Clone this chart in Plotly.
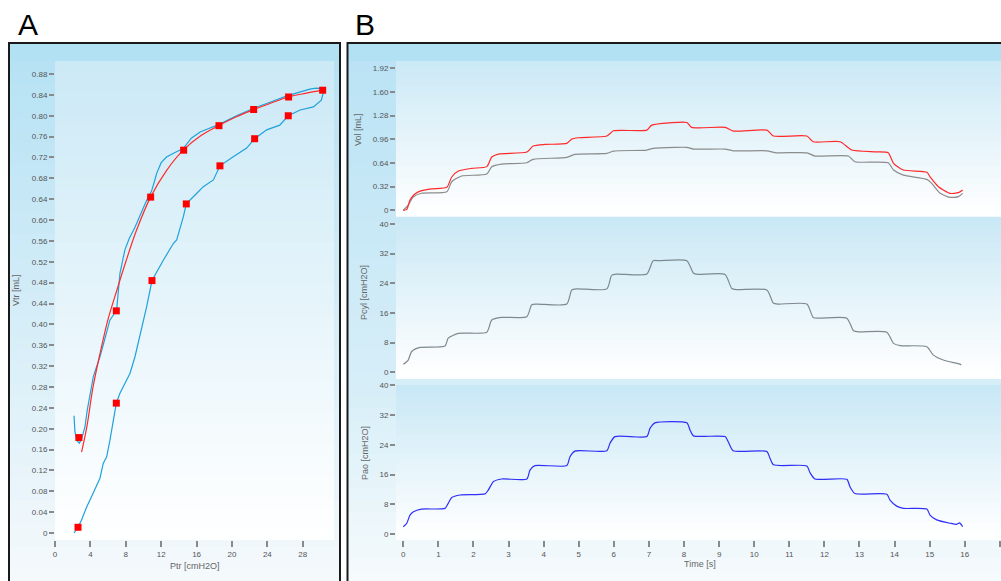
import plotly.graph_objects as go

W, H = 1001, 581

# ---------------- Panel A data (Ptr vs Vtr) ----------------
loop_ptr = [2.15, 2.6, 3.0, 3.58, 4.14, 4.7, 5.08, 5.46, 5.84, 6.21, 6.59, 6.78, 6.93, 7.34, 8.0, 8.47,
            9.04, 9.5, 9.98, 10.36, 10.96, 11.6, 12.24, 13.37, 13.75, 14.5, 14.84, 16.0, 16.76, 17.9,
            18.64, 20.1, 21.66, 22.56, 23.92, 25.4, 26.36, 27.7, 29.2, 30.1, 30.3, 30.25,
            29.5, 28.8, 27.7, 26.2, 24.3, 22.4, 20.5, 18.5, 17.3, 16.4, 15.4, 14.9, 14.5, 13.5, 12.6,
            12.0, 11.5, 11.2, 10.9, 10.36, 9.6, 9.0, 8.4, 7.9, 7.34, 7.1, 6.97, 6.6, 6.2, 5.6, 5.08,
            4.33, 3.9, 3.65, 3.39, 3.0, 2.75, 2.45, 2.25, 2.15]
loop_vtr = [0.0, 0.011, 0.025, 0.05, 0.07, 0.09, 0.105, 0.134, 0.146, 0.178, 0.217, 0.23, 0.249, 0.268,
            0.29, 0.306, 0.338, 0.37, 0.402, 0.434, 0.484, 0.505, 0.523, 0.555, 0.562, 0.606, 0.631,
            0.651, 0.664, 0.677, 0.704, 0.721, 0.738, 0.756, 0.773, 0.782, 0.800, 0.811, 0.817, 0.830,
            0.843, 0.852,
            0.853, 0.851, 0.846, 0.838, 0.826, 0.814, 0.80, 0.783, 0.775, 0.769, 0.757, 0.747, 0.737,
            0.729, 0.721, 0.71, 0.69, 0.672, 0.655, 0.638, 0.607, 0.585, 0.565, 0.543, 0.498, 0.46,
            0.428, 0.418, 0.408, 0.37, 0.338, 0.30, 0.26, 0.236, 0.204, 0.18, 0.172, 0.178, 0.195, 0.225]

fit_ptr = [3.0, 3.6, 4.3, 5.1, 6.0, 7.0, 8.0, 9.2, 10.8, 12.6, 14.5, 16.5, 18.5, 20.5, 22.5, 24.5,
           26.4, 28.3, 30.25]
fit_vtr = [0.155, 0.204, 0.28, 0.345, 0.41, 0.466, 0.52, 0.58, 0.644, 0.695, 0.734, 0.762, 0.781,
           0.798, 0.812, 0.825, 0.836, 0.843, 0.849]

mk_ptr = [2.6, 6.93, 10.96, 14.84, 18.64, 22.56, 26.36, 30.25, 26.4, 22.45, 18.53, 14.54, 10.81, 6.93, 2.7]
mk_vtr = [0.011, 0.249, 0.484, 0.631, 0.704, 0.756, 0.800, 0.849, 0.836, 0.812, 0.781, 0.734, 0.644,
          0.426, 0.183]

a_xticks = [0, 4, 8, 12, 16, 20, 24, 28]
a_yticks = [round(0.04 * i, 2) for i in range(23)]
a_ylabels = ["0"] + ["%.2f" % v for v in a_yticks[1:]]

# ---------------- Panel B data (time series) ----------------
t_v1 = [0, 0.1, 0.19, 0.33, 0.52, 0.81, 1.24, 1.38, 1.57, 1.95, 2.38, 2.52, 2.71, 3.52, 3.7, 4.04, 4.66,
        4.8, 4.99, 5.8, 5.99, 6.94, 7.08, 7.6, 8.08, 8.22, 9.17, 9.41, 10.36, 10.55, 11.5, 11.68, 12.45,
        12.78, 13.49, 13.82, 13.97, 14.25, 14.92, 15.01, 15.25, 15.58, 15.82, 15.94]
vol1 = [0, 0.013, 0.139, 0.22, 0.265, 0.29, 0.31, 0.45, 0.53, 0.567, 0.59, 0.72, 0.76, 0.787, 0.868, 0.89,
        0.904, 0.962, 0.98, 1.003, 1.074, 1.083, 1.151, 1.182, 1.187, 1.12, 1.12, 1.07, 1.083, 1.003,
        1.003, 0.926, 0.926, 0.814, 0.79, 0.777, 0.634, 0.544, 0.513, 0.453, 0.318, 0.229, 0.238, 0.274]

t_v2 = [0, 0.14, 0.28, 0.52, 1.24, 1.38, 1.66, 2.38, 2.52, 2.8, 3.52, 3.7, 4.66, 4.89, 5.8, 5.99, 6.94,
        7.12, 7.74, 8.08, 8.27, 9.17, 9.4, 10.36, 10.64, 11.5, 11.73, 12.68, 12.87, 13.82, 13.97, 14.25,
        14.92, 15.06, 15.3, 15.58, 15.82, 15.94]
vol2 = [0, 0.07, 0.18, 0.23, 0.25, 0.386, 0.463, 0.49, 0.589, 0.625, 0.642, 0.688, 0.715, 0.756, 0.769,
        0.80, 0.814, 0.837, 0.85, 0.85, 0.827, 0.827, 0.804, 0.804, 0.777, 0.777, 0.733, 0.733, 0.656,
        0.642, 0.544, 0.476, 0.418, 0.364, 0.229, 0.175, 0.184, 0.229]

t_pcyl = [0, 0.14, 0.24, 0.48, 1.19, 1.28, 1.57, 2.38, 2.52, 2.8, 3.52, 3.66, 3.8, 4.66, 4.8, 4.95, 5.8,
          5.94, 6.1, 6.94, 7.12, 7.3, 8.08, 8.27, 8.4, 9.17, 9.36, 9.5, 10.36, 10.55, 10.7, 11.5, 11.68,
          11.85, 12.64, 12.83, 13.0, 13.78, 13.97, 14.16, 14.92, 15.1, 15.39, 15.86, 15.9]
pcyl = [2.15, 3.3, 5.6, 6.7, 7.1, 9.2, 10.5, 10.8, 14.1, 14.8, 15.0, 18.2, 18.4, 18.4, 22.2, 22.5, 22.5,
        26.2, 26.5, 26.5, 30.1, 30.1, 30.1, 26.7, 26.4, 26.4, 22.6, 22.3, 22.2, 18.6, 18.4, 18.4, 14.8,
        14.6, 14.6, 11.2, 10.9, 10.8, 7.8, 7.2, 6.9, 4.7, 3.3, 2.2, 2.0]

t_pao = [0, 0.1, 0.19, 0.29, 0.52, 1.19, 1.28, 1.38, 1.62, 2.33, 2.42, 2.57, 2.8, 3.52, 3.61, 3.75, 4.66,
         4.75, 4.89, 5.8, 5.89, 6.03, 6.94, 7.03, 7.17, 8.08, 8.17, 8.27, 9.17, 9.26, 9.4, 10.36, 10.45,
         10.55, 11.5, 11.59, 11.73, 12.64, 12.73, 12.87, 13.78, 13.87, 14.06, 14.25, 14.92, 15.01, 15.2,
         15.58, 15.77, 15.85, 15.94]
pao = [1.97, 2.9, 5.1, 6.0, 6.7, 6.9, 8.25, 9.8, 10.5, 10.8, 11.8, 14.1, 14.8, 14.8, 17.2, 18.4, 18.4,
       20.8, 22.3, 22.4, 24.4, 26.2, 26.2, 28.4, 29.9, 29.9, 28.0, 26.4, 26.2, 24.8, 22.4, 22.2, 20.4,
       18.6, 18.3, 16.5, 14.8, 14.7, 12.7, 10.9, 10.7, 9.1, 7.5, 6.9, 6.7, 5.1, 3.8, 2.9, 2.6, 3.0, 2.0]

b_xticks = list(range(18))
vol_ticks = [0, 0.32, 0.64, 0.96, 1.28, 1.60, 1.92]
vol_labels = ["0", "0.32", "0.64", "0.96", "1.28", "1.60", "1.92"]
p_ticks = [0, 8, 16, 24, 32, 40]


# ---------------- helpers ----------------
def px(x):
    return x / W


def py(y):
    return 1 - y / H


def hex2rgb(h):
    h = h.lstrip("#")
    return [int(h[i:i + 2], 16) for i in (0, 2, 4)]


def grad(x0, x1, y0, y1, stops, n=40):
    """vertical gradient made of thin rect bands; stops = [(frac, hex), ...]"""
    out = []
    for i in range(n):
        f = (i + 0.5) / n
        for k in range(len(stops) - 1):
            if stops[k][0] <= f <= stops[k + 1][0]:
                a, b = stops[k], stops[k + 1]
                break
        t = (f - a[0]) / (b[0] - a[0]) if b[0] > a[0] else 0
        ca, cb = hex2rgb(a[1]), hex2rgb(b[1])
        c = [round(ca[j] + (cb[j] - ca[j]) * t) for j in range(3)]
        ya = y0 + (y1 - y0) * i / n
        yb = y0 + (y1 - y0) * (i + 1) / n + 0.8
        out.append(dict(type="rect", xref="paper", yref="paper", x0=px(x0), x1=px(x1),
                        y0=py(min(yb, y1)), y1=py(ya), fillcolor="rgb(%d,%d,%d)" % tuple(c),
                        line=dict(width=0), layer="below"))
    return out


shapes = []
# panel A backgrounds
shapes += [dict(type="rect", xref="paper", yref="paper", x0=px(9), x1=px(340), y0=py(61), y1=py(43),
                fillcolor="#b3e1f4", line=dict(width=0), layer="below")]
shapes += grad(9, 340, 61, 581, [(0, "#b6e2f4"), (1, "#f5f9fc")], n=45)
shapes += grad(55, 334, 61, 540, [(0, "#cbe9f6"), (0.85, "#f8fcfe"), (1, "#ffffff")], n=45)
# panel B backgrounds
shapes += [dict(type="rect", xref="paper", yref="paper", x0=px(347), x1=1, y0=py(61), y1=py(43),
                fillcolor="#b3e1f4", line=dict(width=0), layer="below")]
shapes += grad(347, 1001, 61, 581, [(0, "#bbe3f5"), (0.62, "#d6eef8"), (1, "#f6fafc")], n=45)
shapes += grad(396, 1001, 61, 216.7, [(0, "#cbe9f6"), (0.9, "#fbfdfe"), (1, "#ffffff")], n=25)
shapes += grad(396, 1001, 217, 379, [(0, "#c9e8f5"), (0.9, "#fbfdfe"), (1, "#ffffff")], n=25)
shapes += grad(396, 1001, 385, 540, [(0, "#c8e8f5"), (0.9, "#fbfdfe"), (1, "#ffffff")], n=25)
# panel borders
shapes += [dict(type="rect", xref="paper", yref="paper", x0=px(9), x1=px(340), y0=py(600), y1=py(43),
                line=dict(color="#1a1a1a", width=2), fillcolor="rgba(0,0,0,0)", layer="above"),
           dict(type="rect", xref="paper", yref="paper", x0=px(347.5), x1=px(1012), y0=py(600), y1=py(43),
                line=dict(color="#1a1a1a", width=2), fillcolor="rgba(0,0,0,0)", layer="above")]

fig = go.Figure()

# Panel A traces
fig.add_trace(go.Scatter(x=loop_ptr, y=loop_vtr, mode="lines", line=dict(color="#1fa2dc", width=1.2),
                         xaxis="x", yaxis="y", showlegend=False, hoverinfo="skip"))
fig.add_trace(go.Scatter(x=fit_ptr, y=fit_vtr, mode="lines", line=dict(color="#ff2a2a", width=1.2, shape="spline"),
                         xaxis="x", yaxis="y", showlegend=False, hoverinfo="skip"))
fig.add_trace(go.Scatter(x=mk_ptr, y=mk_vtr, mode="markers",
                         marker=dict(symbol="square", size=7, color="#ff0000", line=dict(width=0)),
                         xaxis="x", yaxis="y", showlegend=False, hoverinfo="skip"))

# Panel B traces
fig.add_trace(go.Scatter(x=t_v2, y=vol2, mode="lines", line=dict(color="#8c8c8c", width=1.2, shape="spline", smoothing=0.6),
                         xaxis="x2", yaxis="y2", showlegend=False, hoverinfo="skip"))
fig.add_trace(go.Scatter(x=t_v1, y=vol1, mode="lines", line=dict(color="#ff2a2a", width=1.2, shape="spline", smoothing=0.6),
                         xaxis="x2", yaxis="y2", showlegend=False, hoverinfo="skip"))
fig.add_trace(go.Scatter(x=t_pcyl, y=pcyl, mode="lines", line=dict(color="#7e8a90", width=1.2, shape="spline", smoothing=0.6),
                         xaxis="x3", yaxis="y3", showlegend=False, hoverinfo="skip"))
fig.add_trace(go.Scatter(x=t_pao, y=pao, mode="lines", line=dict(color="#2f2ff8", width=1.2, shape="spline", smoothing=0.6),
                         xaxis="x4", yaxis="y4", showlegend=False, hoverinfo="skip"))

tickfont = dict(family="Liberation Sans, Arial, sans-serif", size=8, color="#555555")
common = dict(showgrid=False, zeroline=False, showline=False, automargin=False, fixedrange=True,
              tickfont=tickfont, tickcolor="#8a8a8a", tickwidth=2)

xr_b = [-0.208, 17.033]
fig.update_layout(
    width=W, height=H, margin=dict(l=0, r=0, t=0, b=0), autosize=False,
    paper_bgcolor="#ffffff", plot_bgcolor="rgba(0,0,0,0)",
    shapes=shapes,
    xaxis=dict(domain=[px(55), px(334)], range=[0, 31.53], anchor="y", tickmode="array",
               tickvals=a_xticks, ticks="outside", ticklen=6, **common),
    yaxis=dict(domain=[py(540), py(61)], range=[-0.0134, 0.905], anchor="x", tickmode="array",
               tickvals=a_yticks, ticktext=a_ylabels, ticks="outside", ticklen=5, **common),
    xaxis2=dict(domain=[px(396), 1], range=xr_b, anchor="y2", showticklabels=False, ticks="", **common),
    yaxis2=dict(domain=[py(216.7), py(61)], range=[-0.0864, 2.017], anchor="x2", tickmode="array",
                tickvals=vol_ticks, ticktext=vol_labels, ticks="outside", ticklen=5, **common),
    xaxis3=dict(domain=[px(396), 1], range=xr_b, anchor="y3", showticklabels=False, ticks="", **common),
    yaxis3=dict(domain=[py(379), py(217)], range=[-1.81, 41.89], anchor="x3", tickmode="array",
                tickvals=p_ticks, ticks="outside", ticklen=5, **common),
    xaxis4=dict(domain=[px(396), 1], range=xr_b, anchor="y4", tickmode="array", tickvals=b_xticks,
                ticks="outside", ticklen=6, **common),
    yaxis4=dict(domain=[py(540), py(385)], range=[-1.61, 40.08], anchor="x4", tickmode="array",
                tickvals=p_ticks, ticks="outside", ticklen=5, **common),
)

title_font = dict(family="Liberation Sans, Arial, sans-serif", size=9, color="#666666")
letter_font = dict(family="Liberation Sans, Arial, sans-serif", size=30, color="#000000")
annots = [
    dict(text="A", x=px(28), y=py(24), font=letter_font),
    dict(text="B", x=px(365), y=py(24), font=letter_font),
    dict(text="Ptr [cmH2O]", x=px(195), y=py(566), font=title_font),
    dict(text="Time [s]", x=px(700), y=py(564), font=title_font),
    dict(text="Vtr [mL]", x=px(16), y=py(290), font=title_font, textangle=-90),
    dict(text="Vol [mL]", x=px(358), y=py(130), font=title_font, textangle=-90),
    dict(text="Pcyl [cmH2O]", x=px(364), y=py(293), font=title_font, textangle=-90),
    dict(text="Pao [cmH2O]", x=px(365), y=py(453), font=title_font, textangle=-90),
]
for a in annots:
    a.update(xref="paper", yref="paper", showarrow=False, xanchor="center", yanchor="middle")
fig.update_layout(annotations=annots)

fig.write_html("out.html")
